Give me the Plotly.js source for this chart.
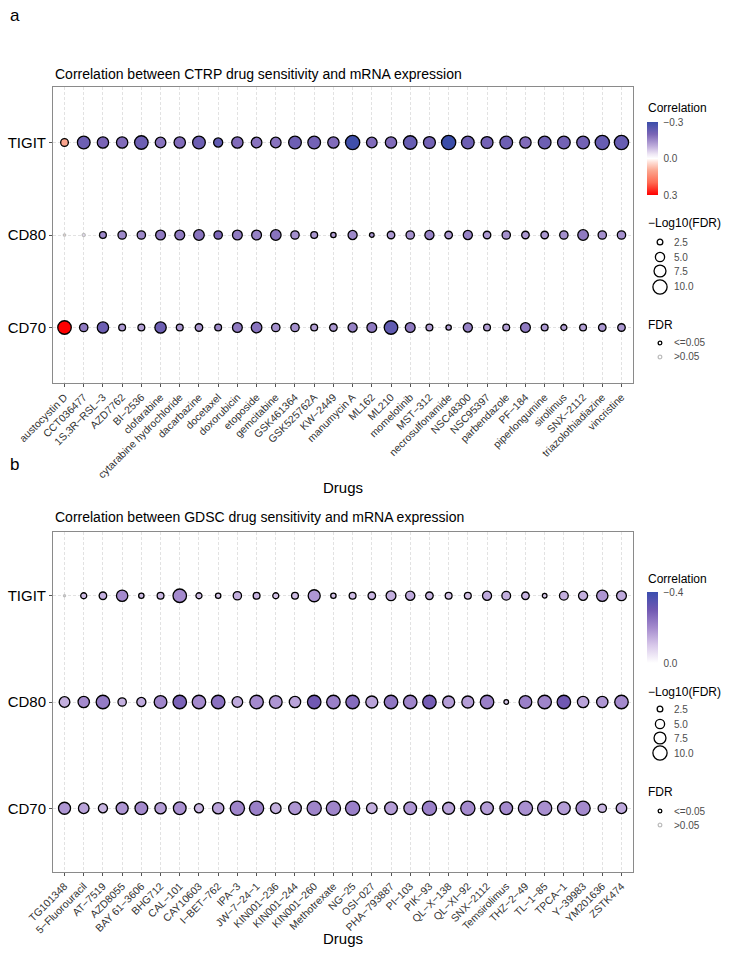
<!DOCTYPE html>
<html><head><meta charset="utf-8">
<script src="https://cdn.plot.ly/plotly-3.0.1.min.js"></script>
<style>html,body{margin:0;padding:0;background:#fff}#chart{width:735px;height:953px}</style>
</head><body><div id="chart"></div>
<script>
// ---------------- DATA ----------------
const genes = ['CD70', 'CD80', 'TIGIT'];

const ctrpDrugs = ['austocystin D','CCT036477','1S,3R−RSL−3','AZD7762','BI−2536','clofarabine','cytarabine hydrochloride','dacarbazine','docetaxel','doxorubicin','etoposide','gemcitabine','GSK461364','GSK525762A','KW−2449','manumycin A','ML162','ML210','momelotinib','MST−312','necrosulfonamide','NSC48300','NSC95397','parbendazole','PF−184','piperlongumine','sirolimus','SNX−2112','triazolothiadiazine','vincristine'];
const ctrpTIGITcor = [0.10,-0.22,-0.20,-0.19,-0.22,-0.18,-0.19,-0.22,-0.24,-0.19,-0.18,-0.18,-0.22,-0.21,-0.19,-0.29,-0.19,-0.19,-0.23,-0.21,-0.30,-0.22,-0.21,-0.22,-0.19,-0.22,-0.21,-0.21,-0.23,-0.23];
const ctrpTIGITlogFDR = [3.8,8.3,6.9,6.9,9.2,6.2,6.9,8.3,4.9,6.9,6.2,6.2,8.3,8.3,6.9,10.0,6.2,6.9,9.2,7.5,10.0,8.3,7.5,8.3,6.9,8.3,8.3,8.3,10.0,10.0];
const ctrpCD80cor = [0.03,-0.05,-0.15,-0.15,-0.15,-0.17,-0.17,-0.18,-0.20,-0.17,-0.16,-0.18,-0.14,-0.13,-0.12,-0.15,-0.13,-0.13,-0.14,-0.16,-0.13,-0.16,-0.13,-0.14,-0.13,-0.13,-0.14,-0.17,-0.14,-0.14];
const ctrpCD80logFDR = [0.9,1.2,3.2,4.3,4.3,5.5,5.5,6.2,4.3,5.5,5.5,6.2,4.3,3.2,2.3,4.9,1.9,3.7,4.3,4.9,3.7,4.9,3.7,4.3,3.7,3.7,4.3,6.2,4.3,4.3];
const ctrpCD70cor = [0.30,-0.17,-0.22,-0.13,-0.12,-0.22,-0.13,-0.13,-0.15,-0.17,-0.18,-0.14,-0.14,-0.12,-0.13,-0.16,-0.17,-0.24,-0.17,-0.12,-0.12,-0.16,-0.12,-0.12,-0.17,-0.13,-0.12,-0.12,-0.13,-0.13];
const ctrpCD70logFDR = [9.2,4.3,6.9,3.2,3.2,6.9,3.2,3.7,3.2,5.5,6.2,4.3,4.3,3.2,3.7,4.9,5.5,9.2,5.5,3.2,2.3,4.9,3.2,3.2,5.5,3.2,2.7,3.2,3.7,3.7];

const gdscDrugs = ['TG101348','5−Fluorouracil','AT−7519','AZD8055','BAY 61−3606','BHG712','CAL−101','CAY10603','I−BET−762','IPA−3','JW−7−24−1','KIN001−236','KIN001−244','KIN001−260','Methotrexate','NG−25','OSI−027','PHA−793887','PI−103','PIK−93','QL−X−138','QL−XI−92','SNX−2112','Temsirolimus','THZ−2−49','TL−1−85','TPCA−1','Y−39983','YM201636','ZSTK474'];
const gdscTIGITcor = [-0.03,-0.12,-0.14,-0.20,-0.12,-0.13,-0.20,-0.12,-0.10,-0.14,-0.13,-0.11,-0.12,-0.18,-0.11,-0.12,-0.13,-0.14,-0.15,-0.13,-0.11,-0.11,-0.15,-0.14,-0.13,-0.10,-0.14,-0.14,-0.18,-0.15];
const gdscTIGITlogFDR = [0.8,2.7,3.7,6.9,2.3,3.2,9.2,2.7,2.3,4.3,3.2,2.7,3.2,7.6,2.3,3.2,3.7,5.5,5.0,3.7,3.2,3.2,4.9,4.6,3.7,1.9,4.6,4.9,6.9,5.5];
const gdscCD80cor = [-0.14,-0.20,-0.23,-0.14,-0.15,-0.21,-0.28,-0.20,-0.25,-0.15,-0.20,-0.18,-0.16,-0.30,-0.22,-0.26,-0.16,-0.24,-0.21,-0.29,-0.17,-0.17,-0.22,-0.10,-0.22,-0.21,-0.30,-0.16,-0.18,-0.20];
const gdscCD80logFDR = [6.2,6.9,9.2,4.3,4.9,8.3,9.2,9.2,9.2,6.2,9.2,8.3,6.9,9.2,9.2,9.2,7.6,9.2,9.2,9.2,7.6,7.6,9.2,1.9,8.3,9.2,9.2,6.9,6.9,9.2];
const gdscCD70cor = [-0.18,-0.16,-0.13,-0.18,-0.20,-0.17,-0.19,-0.13,-0.16,-0.21,-0.22,-0.14,-0.18,-0.21,-0.21,-0.22,-0.14,-0.17,-0.18,-0.22,-0.16,-0.20,-0.17,-0.20,-0.19,-0.19,-0.17,-0.20,-0.13,-0.15];
const gdscCD70logFDR = [7.6,6.2,4.9,7.6,8.3,6.9,8.3,4.9,6.9,10.0,10.0,6.2,8.3,10.0,10.0,10.0,6.2,8.3,8.3,10.0,7.6,10.0,8.3,8.3,10.0,10.0,8.3,10.0,4.3,6.2];

const sizeLegendVals = [2.5, 5.0, 7.5, 10.0];
const sizeLegendLabels = ['2.5', '5.0', '7.5', '10.0'];

// ---------------- HELPERS ----------------
const W = 735, H = 953;
const px = v => v / W;
const py = v => 1 - v / H;
const FONT = 'Liberation Sans, Arial, Helvetica, sans-serif';
const SIG = -Math.log10(0.05);
const LW = 1.3;
const diam = v => Math.max(3, 5.38 * Math.sqrt(Math.max(v, 0)) - 1.5);

function panelTrace(drugs, rows, xa, ya, cbar, cmin, cmax, cscale) {
  const x = [], y = [], c = [], s = [], lc = [];
  rows.forEach(([g, cor, lf]) => {
    drugs.forEach((d, i) => {
      x.push(d); y.push(g); c.push(-cor[i]);
      s.push(diam(lf[i]) - LW);
      lc.push(lf[i] >= SIG ? '#000000' : '#BEBEBE');
    });
  });
  return {
    type: 'scatter', mode: 'markers', x, y, xaxis: xa, yaxis: ya,
    hoverinfo: 'skip', showlegend: false,
    marker: {
      size: s, color: c, cmin, cmax, colorscale: cscale, showscale: true,
      line: { color: lc, width: LW }, colorbar: cbar, opacity: 1
    }
  };
}

const topScale = [[0, '#FF0000'], [0.17, '#FF6A52'], [0.333, '#FBA58E'], [0.45, '#FFE0D8'], [0.5, '#FFFFFF'],
  [0.56, '#EEE6F5'], [0.667, '#C0AEDC'], [0.833, '#7A64B6'], [1, '#3A4DA9']];
const botScale = [[0, '#FFFFFF'], [0.25, '#D8C8EA'], [0.5, '#A48ACD'], [0.75, '#7058B2'], [1, '#3A4DAE']];

const cbCommon = {
  x: px(647), xanchor: 'left', lenmode: 'pixels', thickness: 11, ypad: 0, xpad: 0,
  outlinewidth: 0, ticks: 'outside', ticklen: 4, tickcolor: 'rgba(0,0,0,0)',
  tickfont: { size: 10, color: '#4D4D4D', family: FONT }, yanchor: 'middle'
};

const t1 = panelTrace(ctrpDrugs,
  [['TIGIT', ctrpTIGITcor, ctrpTIGITlogFDR], ['CD80', ctrpCD80cor, ctrpCD80logFDR], ['CD70', ctrpCD70cor, ctrpCD70logFDR]],
  'x', 'y',
  Object.assign({}, cbCommon, { y: py(158.5), len: 73, tickvals: [0.3, 0, -0.3], ticktext: ['−0.3', '0.0', '0.3'] }),
  -0.3, 0.3, topScale);
const t2 = panelTrace(gdscDrugs,
  [['TIGIT', gdscTIGITcor, gdscTIGITlogFDR], ['CD80', gdscCD80cor, gdscCD80logFDR], ['CD70', gdscCD70cor, gdscCD70logFDR]],
  'x2', 'y2',
  Object.assign({}, cbCommon, { y: py(627.5), len: 71, tickvals: [0.4, 0], ticktext: ['−0.4', '0.0'] }),
  0, 0.4, botScale);

function xAxis(drugs, anchor) {
  return {
    domain: [px(53), px(633)], anchor, type: 'category', categoryorder: 'array', categoryarray: drugs,
    range: [-0.6, drugs.length - 0.4], tickangle: -45, tickfont: { size: 10.5, color: '#333333', family: FONT },
    ticks: 'outside', ticklen: 3, tickcolor: '#555', tickwidth: 1,
    showgrid: true, gridcolor: '#D6D6D6', gridwidth: 0.7, griddash: '3px,2px',
    showline: true, mirror: true, linecolor: '#8A8A8A', linewidth: 1, zeroline: false,
    automargin: false, fixedrange: true
  };
}
function yAxis(top, bottom, anchor) {
  return {
    domain: [py(bottom), py(top)], anchor, type: 'category', categoryorder: 'array', categoryarray: genes,
    range: [-0.6, 2.6], tickfont: { size: 15, color: '#000', family: FONT },
    ticks: 'outside', ticklen: 3, tickcolor: '#555', tickwidth: 1,
    showgrid: true, gridcolor: '#D6D6D6', gridwidth: 0.7, griddash: '3px,2px',
    showline: true, mirror: true, linecolor: '#8A8A8A', linewidth: 1, zeroline: false,
    automargin: false, fixedrange: true
  };
}

const ann = [];
function txt(text, x, y, size, color, anchor) {
  ann.push({ text, x: px(x), y: py(y), xref: 'paper', yref: 'paper', showarrow: false,
    xanchor: anchor || 'left', yanchor: 'middle', font: { size, color: color || '#000', family: FONT } });
}
const shapes = [];
function circ(cx, cy, d, color) {
  const r = (d - LW) / 2;
  shapes.push({ type: 'circle', xref: 'paper', yref: 'paper', xsizemode: 'pixel', ysizemode: 'pixel',
    xanchor: px(cx), yanchor: py(cy), x0: -r, x1: r, y0: -r, y1: r,
    line: { color, width: LW }, fillcolor: 'rgba(0,0,0,0)' });
}

txt('a', 8, 15, 17);
txt('b', 8, 465, 17);
txt('Correlation between CTRP drug sensitivity and mRNA expression', 53, 74, 14);
txt('Correlation between GDSC drug sensitivity and mRNA expression', 53, 517, 14);
txt('Drugs', 343, 488, 15, '#000', 'center');
txt('Drugs', 343, 938, 15, '#000', 'center');

function legends(corrY, logY, logItems, fdrY, fdrItems) {
  txt('Correlation', 646, corrY, 12);
  txt('−Log10(FDR)', 646, logY, 12);
  sizeLegendVals.forEach((v, i) => {
    circ(660, logItems[i], diam(v), '#000');
    txt(sizeLegendLabels[i], 672, logItems[i], 10, '#4D4D4D');
  });
  txt('FDR', 646, fdrY, 12);
  circ(660, fdrItems[0], 5, '#000');
  txt('<=0.05', 672, fdrItems[0], 10, '#4D4D4D');
  circ(660, fdrItems[1], 5, '#BEBEBE');
  txt('>0.05', 672, fdrItems[1], 10, '#4D4D4D');
}
legends(108, 223, [242, 257, 271, 287], 325, [343, 357]);
legends(579, 692, [709, 724, 738, 753], 792, [811, 825]);

const layout = {
  width: W, height: H, margin: { l: 0, r: 0, t: 0, b: 0 },
  paper_bgcolor: '#fff', plot_bgcolor: '#fff', showlegend: false,
  font: { family: FONT },
  xaxis: xAxis(ctrpDrugs, 'y'), yaxis: yAxis(87, 383, 'x'),
  xaxis2: xAxis(gdscDrugs, 'y2'), yaxis2: yAxis(532, 872, 'x2'),
  annotations: ann, shapes
};
Plotly.newPlot('chart', [t1, t2], layout, { staticPlot: true, displayModeBar: false });
</script>
</body></html>
